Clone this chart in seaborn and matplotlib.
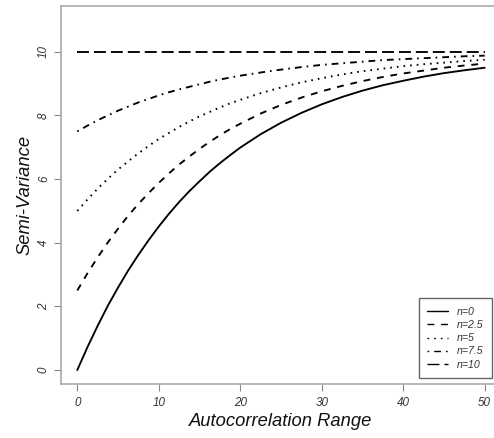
import numpy as np
import pandas as pd
import matplotlib
matplotlib.use("Agg")
import matplotlib.pyplot as plt
import seaborn as sns

# Data
x_range = [0, 1.25, 2.5, 3.75, 5, 6.25, 7.5, 8.75, 10, 11.25, 12.5, 13.75,
           15, 16.25, 17.5, 18.75, 20, 22.5, 25, 27.5, 30,
           32.5, 35, 37.5, 40, 42.5, 45, 47.5, 50]
n0 = [0, 0.72, 1.39, 2.02, 2.59, 3.13, 3.62, 4.08, 4.51, 4.91, 5.28, 5.62,
      5.93, 6.23, 6.50, 6.75, 6.99, 7.41, 7.77, 8.08,
      8.35, 8.58, 8.78, 8.95, 9.09, 9.22, 9.33, 9.42, 9.50]
n2_5 = [2.5, 3.04, 3.54, 4.01, 4.44, 4.85, 5.22, 5.56, 5.88, 6.18, 6.46, 6.71,
        6.95, 7.17, 7.38, 7.57, 7.74, 8.06, 8.33, 8.56,
        8.76, 8.93, 9.08, 9.21, 9.32, 9.41, 9.50, 9.57, 9.63]
n5 = [5, 5.36, 5.70, 6.01, 6.30, 6.56, 6.81, 7.04, 7.26, 7.45, 7.64, 7.81,
      7.97, 8.11, 8.25, 8.38, 8.49, 8.70, 8.88, 9.04,
      9.17, 9.29, 9.39, 9.47, 9.55, 9.61, 9.66, 9.71, 9.75]
n7_5 = [7.5, 7.68, 7.85, 8.00, 8.15, 8.28, 8.41, 8.52, 8.63, 8.73, 8.82, 8.90,
        8.98, 9.06, 9.13, 9.19, 9.25, 9.35, 9.44, 9.52,
        9.59, 9.64, 9.69, 9.74, 9.77, 9.80, 9.83, 9.86, 9.88]
n10 = [10] * 29
series_labels = ["n=0", "n=2.5", "n=5", "n=7.5", "n=10"]
x_ticks = [0, 10, 20, 30, 40, 50]
y_ticks = [0, 2, 4, 6, 8, 10]

series = [n0, n2_5, n5, n7_5, n10]
df = pd.concat([pd.DataFrame({"x": x_range, "y": v, "n": lab})
                for v, lab in zip(series, series_labels)], ignore_index=True)

sns.set_style("white")
plt.rcParams["font.family"] = ["Liberation Sans", "DejaVu Sans"]
plt.rcParams["lines.scale_dashes"] = False

W, H = 494, 438
fig = plt.figure(figsize=(W / 100, H / 100), dpi=100)
# axes region in pixels: left 61, right 501 (beyond canvas), top 6, bottom 384
l, r, t, b = 61, 501, 6, 384
ax = fig.add_axes([l / W, 1 - b / H, (r - l) / W, (b - t) / H])

dashes = {"n=0": "", "n=2.5": (4.9, 4.9), "n=5": (1.2, 3.6),
          "n=7.5": (1.2, 3.6, 4.9, 3.6), "n=10": (8.6, 3.6)}
sns.lineplot(data=df, x="x", y="y", style="n", style_order=series_labels,
             dashes=dashes, color="black", linewidth=1.35, ax=ax, legend=True)

ax.set_xlim(-2, 52)
ax.set_ylim(-0.44, 11.44)
ax.set_xticks(x_ticks)
ax.set_yticks(y_ticks)
ax.set_xticklabels([str(v) for v in x_ticks], fontstyle="italic",
                   fontsize=8.4, color="#333333")
ax.set_yticklabels([str(v) for v in y_ticks], fontstyle="italic",
                   fontsize=8.4, color="#333333", rotation=90, va="center")
ax.tick_params(axis="both", which="both", length=5, width=0.8,
               color="#888888", direction="out", pad=4,
               bottom=True, left=True)
ax.tick_params(axis="y", pad=3)
for s in ax.spines.values():
    s.set_color("#aaaaaa")
    s.set_linewidth(1.2)

ax.set_xlabel("Autocorrelation Range", fontstyle="italic", fontsize=13.2,
              color="#111111", labelpad=3)
ax.set_ylabel("Semi-Variance", fontstyle="italic", fontsize=13.2,
              color="#111111", labelpad=3)

handles, labels = ax.get_legend_handles_labels()
leg = ax.legend(handles, labels, loc="lower right",
                bbox_to_anchor=(492 / W, 1 - 378 / H),
                bbox_transform=fig.transFigure,
                prop={"style": "italic", "size": 7.6},
                frameon=True, fancybox=False, framealpha=1,
                edgecolor="#666666", handlelength=2.0, labelspacing=0.3,
                borderpad=0.8, handletextpad=0.8, borderaxespad=0)
leg.get_frame().set_linewidth(1.0)
for txt in leg.get_texts():
    txt.set_color("#333333")
for line in leg.get_lines():
    line.set_linewidth(1.0)

fig.savefig("out.png", dpi=100)
